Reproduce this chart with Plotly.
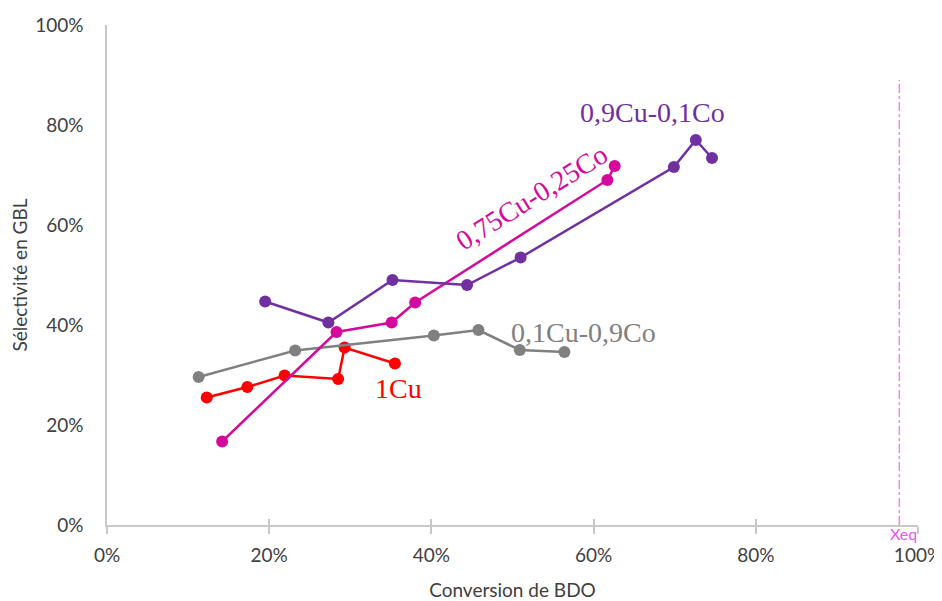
import plotly.graph_objects as go

# Data (fractions: conversion BDO, sélectivité GBL)
cu1_x = [0.123, 0.173, 0.219, 0.285, 0.293, 0.355]
cu1_y = [0.255, 0.276, 0.299, 0.292, 0.355, 0.323]

cu01_x = [0.113, 0.232, 0.403, 0.458, 0.509, 0.564]
cu01_y = [0.296, 0.349, 0.379, 0.390, 0.350, 0.346]

cu075_x = [0.142, 0.283, 0.351, 0.380, 0.617, 0.626]
cu075_y = [0.167, 0.386, 0.405, 0.445, 0.690, 0.718]

cu09_x = [0.195, 0.273, 0.352, 0.444, 0.510, 0.699, 0.726, 0.746]
cu09_y = [0.447, 0.405, 0.490, 0.480, 0.535, 0.716, 0.770, 0.734]

xeq = 0.977
xeq_top = 0.89

tick_vals = [0, 0.2, 0.4, 0.6, 0.8, 1.0]

series = [
    ("1Cu", cu1_x, cu1_y, "#ff0000"),
    ("0,1Cu-0,9Co", cu01_x, cu01_y, "#808080"),
    ("0,75Cu-0,25Co", cu075_x, cu075_y, "#d40a9c"),
    ("0,9Cu-0,1Co", cu09_x, cu09_y, "#7030a0"),
]

fig = go.Figure()
for name, xs, ys, col in series:
    fig.add_trace(go.Scatter(
        x=xs, y=ys, mode="lines+markers", name=name,
        line=dict(color=col, width=2.5),
        marker=dict(color=col, size=12),
        showlegend=False,
    ))

# Xeq line
fig.add_trace(go.Scatter(
    x=[xeq, xeq], y=[0, xeq_top], mode="lines",
    line=dict(color="#ee88ee", width=1.5, dash="dashdot"),
    showlegend=False, hoverinfo="skip",
))

# dummy trace on overlaid axis for inside ticks (crossing tick marks)
fig.add_trace(go.Scatter(x=[0], y=[0], xaxis="x2", mode="markers",
                         marker=dict(opacity=0), showlegend=False, hoverinfo="skip"))

serif = "Liberation Serif, Times New Roman, serif"
labels = [
    ("1Cu", 0.359, 0.274, "#ff0000", 0),
    ("0,1Cu-0,9Co", 0.587, 0.386, "#808080", 0),
    ("0,9Cu-0,1Co", 0.673, 0.826, "#7030a0", 0),
    ("0,75Cu-0,25Co", 0.523, 0.656, "#d40a9c", -32),
]
for text, x, y, col, ang in labels:
    fig.add_annotation(x=x, y=y, text=text, showarrow=False,
                       font=dict(family=serif, size=28, color=col),
                       textangle=ang, xanchor="center", yanchor="middle")

fig.add_annotation(x=xeq, y=0, text="Xeq", showarrow=False,
                   font=dict(family="Lato, sans-serif", size=16, color="#ee55ee"),
                   xanchor="left", yanchor="top", xshift=-11, yshift=3)

axis_font = dict(family="Lato, sans-serif", size=19, color="#404040")
fig.update_layout(
    width=942, height=593,
    margin=dict(l=99, r=32, t=17, b=76),
    paper_bgcolor="white", plot_bgcolor="white",
    xaxis=dict(range=[0, 1], tickvals=tick_vals,
               tickformat=".0%", showgrid=False, zeroline=False,
               showline=True, linecolor="#c8c8c8", linewidth=1.5,
               ticks="outside", ticklen=7, tickcolor="#c8c8c8", tickwidth=1.5,
               tickfont=axis_font, automargin=False, ticklabelstandoff=5,
               ticklabeloverflow="allow",
               title=dict(text="Conversion de BDO", font=axis_font, standoff=22)),
    xaxis2=dict(range=[0, 1], tickvals=tick_vals, overlaying="x", matches="x",
                showticklabels=False, showgrid=False, zeroline=False,
                ticks="inside", ticklen=6, tickcolor="#c8c8c8", tickwidth=1.5,
                side="bottom", automargin=False),
    yaxis=dict(range=[0, 1], tickvals=tick_vals,
               tickformat=".0%", showgrid=False, zeroline=False,
               showline=True, linecolor="#c8c8c8", linewidth=1.5,
               ticks="", tickfont=axis_font, automargin=False, ticklabelstandoff=18,
               title=dict(text="Sélectivité en GBL", font=axis_font, standoff=12)),
)

fig.write_html("out.html")
